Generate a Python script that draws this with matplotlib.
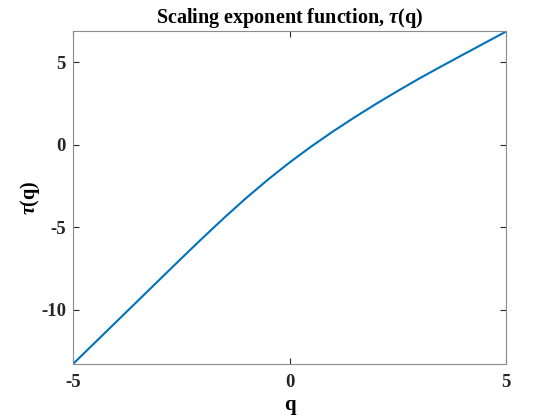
import matplotlib
matplotlib.use("Agg")
import matplotlib.pyplot as plt

plt.rcParams['font.family'] = ['Liberation Serif', 'DejaVu Serif']
plt.rcParams['font.weight'] = 'bold'
plt.rcParams['mathtext.fontset'] = 'custom'
plt.rcParams['mathtext.rm'] = 'Liberation Serif:bold'
plt.rcParams['mathtext.it'] = 'Liberation Serif:italic:bold'
plt.rcParams['mathtext.bf'] = 'Liberation Serif:bold'

q = [-5, -4.5, -4, -3.5, -3, -2.5, -2, -1.5, -1, -0.5, 0,
     0.5, 1, 1.5, 2, 2.5, 3, 3.5, 4, 4.5, 5]
tau = [-13.3, -12.02, -10.74, -9.46, -8.18, -6.90, -5.64, -4.41, -3.23, -2.12, -1.08,
       -0.11, 0.80, 1.66, 2.48, 3.265, 4.025, 4.745, 5.455, 6.16, 6.865]
xticks = [-5, 0, 5]
yticks = [-10, -5, 0, 5]

fig = plt.figure(figsize=(5.6, 4.2), dpi=100)
ax = fig.add_axes([73/560, 1 - 364/420, 433/560, 333/420])
ax.plot(q, tau, color='#0072BD', lw=1.5)
ax.set_xlim(-5, 5)
ax.set_ylim(-13.3, 6.9)
ax.set_xticks(xticks)
ax.set_yticks(yticks)
ax.set_xticklabels([str(v) for v in xticks])
ax.set_yticklabels([str(v) for v in yticks])
gray = '#262626'
for s in ax.spines.values():
    s.set_color('#8c8c8c')
    s.set_linewidth(0.8)
ax.tick_params(direction='in', top=True, right=True, length=4, width=0.8,
               color=gray, labelcolor=gray, labelsize=13.5)
ax.tick_params(axis='x', pad=7)
ax.tick_params(axis='y', pad=5)
for lab in ax.get_xticklabels() + ax.get_yticklabels():
    lab.set_fontweight('bold')
ax.set_title(r'Scaling exponent function, $\tau$(q)', fontsize=14.5, fontweight='bold', pad=6)
ax.set_xlabel('q', fontsize=15, fontweight='bold', labelpad=3)
ax.set_ylabel(r'$\tau$(q)', fontsize=14.5, fontweight='bold', labelpad=-1)
fig.savefig('out.png', dpi=100)
